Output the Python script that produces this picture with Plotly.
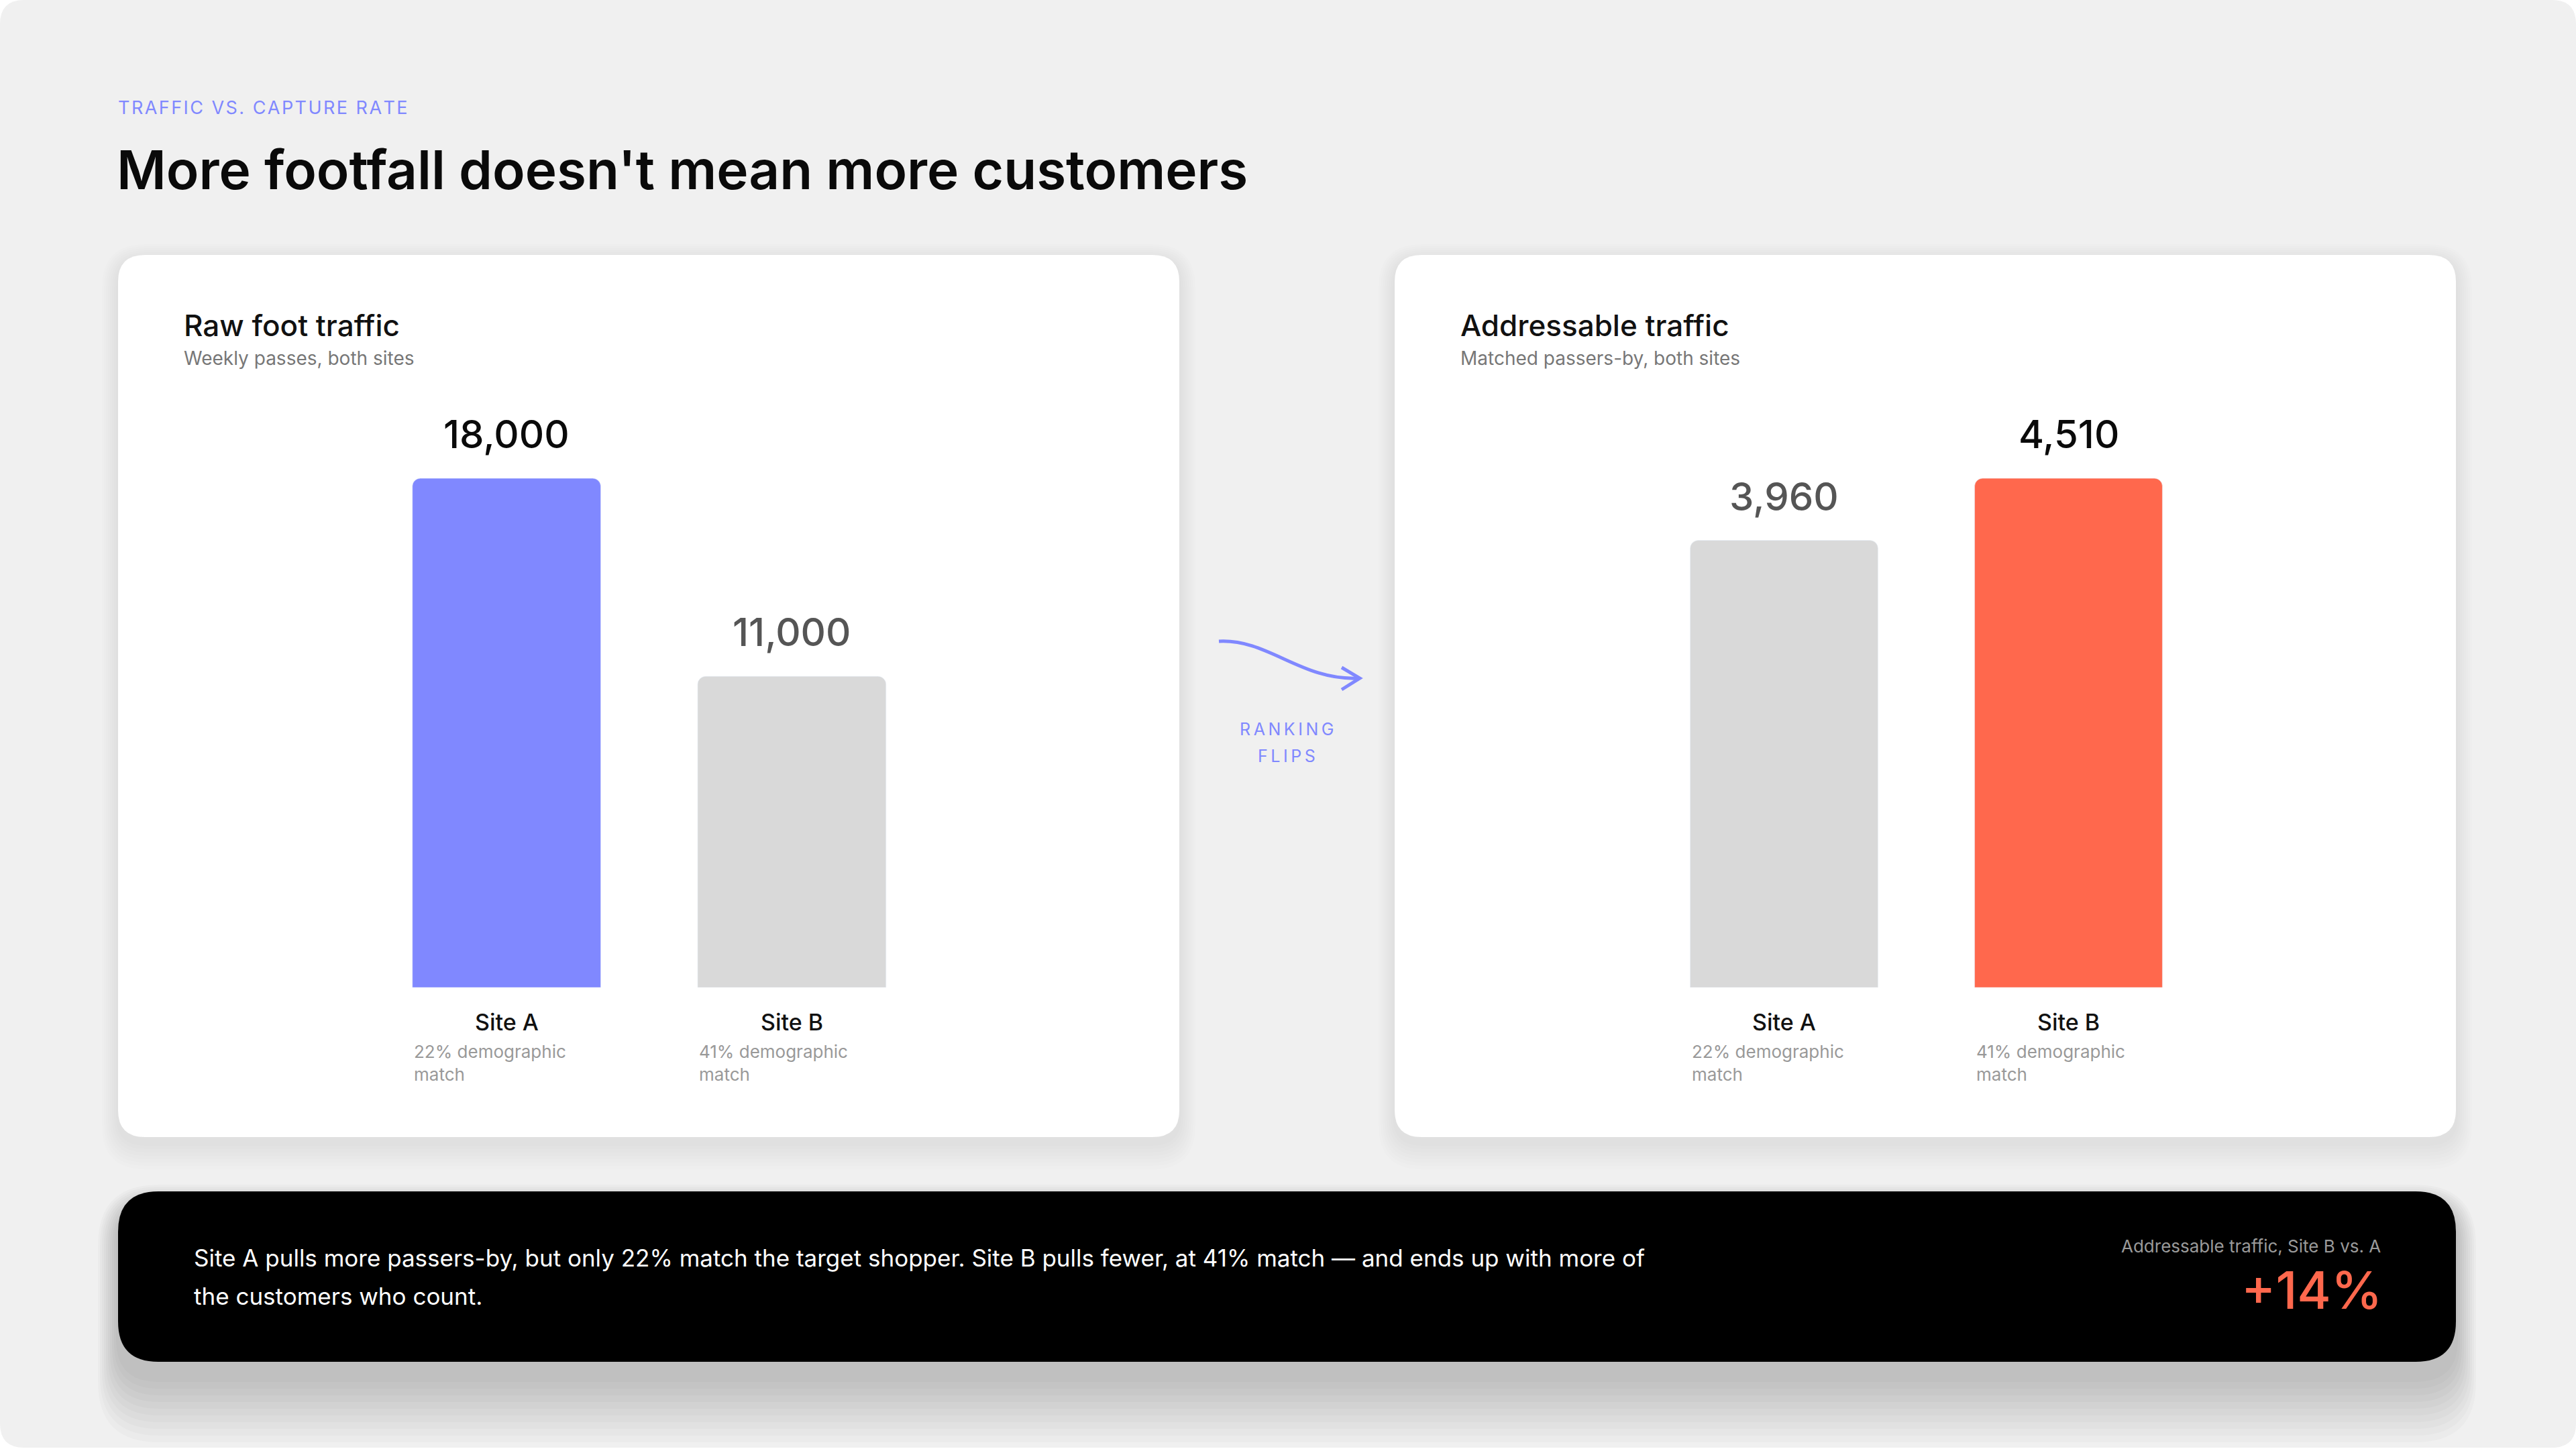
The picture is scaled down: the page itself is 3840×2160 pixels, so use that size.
import plotly.graph_objects as go

W, H = 3840, 2160

# data
sites = ["Site A", "Site B"]
raw_traffic = [18000, 11000]
addressable_traffic = [3960, 4510]
match_rate = [22, 41]
uplift = round((addressable_traffic[1] / addressable_traffic[0] - 1) * 100)

FONT = "Inter"
PURPLE = "#8088FF"
GREY_BAR = "#D9D9D9"
ORANGE = "#FF684D"


def px(x):
    return x / W


def py(y):
    return 1 - y / H


def rrect(x0, y0, x1, y1, r):
    # rounded rectangle path in screen pixels -> paper coords
    return (f"M {px(x0 + r)},{py(y0)} L {px(x1 - r)},{py(y0)} "
            f"Q {px(x1)},{py(y0)} {px(x1)},{py(y0 + r)} "
            f"L {px(x1)},{py(y1 - r)} Q {px(x1)},{py(y1)} {px(x1 - r)},{py(y1)} "
            f"L {px(x0 + r)},{py(y1)} Q {px(x0)},{py(y1)} {px(x0)},{py(y1 - r)} "
            f"L {px(x0)},{py(y0 + r)} Q {px(x0)},{py(y0)} {px(x0 + r)},{py(y0)} Z")


shapes = []
# page background
shapes.append(dict(type="path", path=rrect(0, 0, W, H - 2, 36), xref="paper", yref="paper",
                   fillcolor="#F0F0F0", line=dict(width=0), layer="below"))


def card(x0, y0, x1, y1, r, color, n, alpha, gx, gy, dy):
    for k in range(n, 0, -1):
        shapes.append(dict(type="path",
                           path=rrect(x0 - gx * k, y0 + dy - gx * k, x1 + gx * k, y1 + dy + gy * k, r + gx * k),
                           xref="paper", yref="paper", fillcolor=f"rgba(0,0,0,{alpha})",
                           line=dict(width=0), layer="below"))
    shapes.append(dict(type="path", path=rrect(x0, y0, x1, y1, r), xref="paper", yref="paper",
                       fillcolor=color, line=dict(width=0), layer="below"))


card(176, 380, 1758, 1695, 40, "white", 8, 0.007, 3, 5, 8)
card(2079, 380, 3661, 1695, 40, "white", 8, 0.007, 3, 5, 8)
card(176, 1776, 3661, 2030, 60, "black", 10, 0.02, 3, 10, 20)

# ranking-flips arrow
shapes.append(dict(type="path", xref="paper", yref="paper",
                   path=f"M {px(1817)},{py(956)} C {px(1890)},{py(952)} {px(1940)},{py(1015)} {px(2025)},{py(1011)}",
                   line=dict(color=PURPLE, width=5)))
shapes.append(dict(type="path", xref="paper", yref="paper",
                   path=f"M {px(2000)},{py(995)} L {px(2027)},{py(1011)} L {px(2000)},{py(1028)}",
                   line=dict(color=PURPLE, width=5)))

fig = go.Figure()
fig.add_trace(go.Bar(x=sites, y=raw_traffic, marker=dict(color=[PURPLE, GREY_BAR], cornerradius=12),
                     xaxis="x", yaxis="y", hoverinfo="skip"))
fig.add_trace(go.Bar(x=sites, y=addressable_traffic, marker=dict(color=[GREY_BAR, ORANGE], cornerradius=12),
                     xaxis="x2", yaxis="y2", hoverinfo="skip"))

ydom = [py(1472), py(713)]
ax = dict(type="category", range=[-0.5, 1.5], visible=False, fixedrange=True)
ay = dict(visible=False, showgrid=False, zeroline=False, fixedrange=True)

annotations = []


def txt(x, y, text, size, color, xanchor="left", yanchor="middle", weight=400, **kw):
    annotations.append(dict(x=x, y=y, text=text, showarrow=False, xanchor=xanchor, yanchor=yanchor,
                            font=dict(family=FONT, size=size, color=color, weight=weight), **kw))


def sp(s, ch="\u200a"):
    return ch.join(s)


# headline
txt(px(174), py(160), sp("TRAFFIC VS. CAPTURE RATE"), 27, PURPLE, xref="paper", yref="paper")
txt(px(172), py(252), "More footfall doesn't mean more customers", 80, "#0A0A0A", weight=600,
    xref="paper", yref="paper")

# card headers
for x0, title, sub in [(272, "Raw foot traffic", "Weekly passes, both sites"),
                       (2175, "Addressable traffic", "Matched passers-by, both sites")]:
    txt(px(x0), py(485), title, 44, "#111111", weight=500, xref="paper", yref="paper")
    txt(px(x0), py(534), sub, 28, "#777777", xref="paper", yref="paper")

# bar labels
panels = [("x", "y", raw_traffic), ("x2", "y2", addressable_traffic)]
for xr, yr, vals in panels:
    top = max(vals)
    for s, v, m in zip(sites, vals, match_rate):
        col = "#0A0A0A" if v == top else "#555555"
        txt(s, v, f"{v:,}", 58, col, xanchor="center", yshift=66, weight=500, xref=xr, yref=yr)
        txt(s, 0, s, 34, "#111111", xanchor="center", yshift=-51, weight=500, xref=xr, yref=yr)
        txt(s, 0, f"{m}% demographic<br>match", 26, "#999999", xanchor="left", yanchor="top",
            xshift=-140, yshift=-78, align="left", xref=xr, yref=yr)

# arrow caption
txt(px(1918), py(1087), sp("RANKING", "\u2009"), 25, PURPLE, xanchor="center", xref="paper", yref="paper")
txt(px(1918), py(1127), sp("FLIPS", "\u2009"), 25, PURPLE, xanchor="center", xref="paper", yref="paper")

# takeaway bar
txt(px(287), py(1875), "Site A pulls more passers-by, but only 22% match the target shopper. "
    "Site B pulls fewer, at 41% match \u2014 and ends up with more of", 35, "white", xref="paper", yref="paper")
txt(px(287), py(1932), "the customers who count.", 35, "white", xref="paper", yref="paper")
txt(px(3551), py(1857), "Addressable traffic, Site B vs. A", 26, "#9A9A9A", xanchor="right",
    xref="paper", yref="paper")
txt(px(3553), py(1923), f"+{uplift}%", 77, ORANGE, xanchor="right", weight=500, xref="paper", yref="paper")

fig.update_layout(
    width=W, height=H,
    margin=dict(l=0, r=0, t=0, b=0),
    paper_bgcolor="white",
    plot_bgcolor="rgba(0,0,0,0)",
    showlegend=False,
    bargap=0.34,
    xaxis=dict(ax, domain=[px(542.5), px(1393)], anchor="y"),
    yaxis=dict(ay, domain=ydom, range=[0, max(raw_traffic)], anchor="x"),
    xaxis2=dict(ax, domain=[px(2447.5), px(3295.5)], anchor="y2"),
    yaxis2=dict(ay, domain=ydom, range=[0, max(addressable_traffic)], anchor="x2"),
    shapes=shapes,
    annotations=annotations,
)

# drop the default body margin so the figure sits flush in the window
fig.write_html("out.html", config={"displayModeBar": False},
               post_script="document.body.style.margin='0';")
